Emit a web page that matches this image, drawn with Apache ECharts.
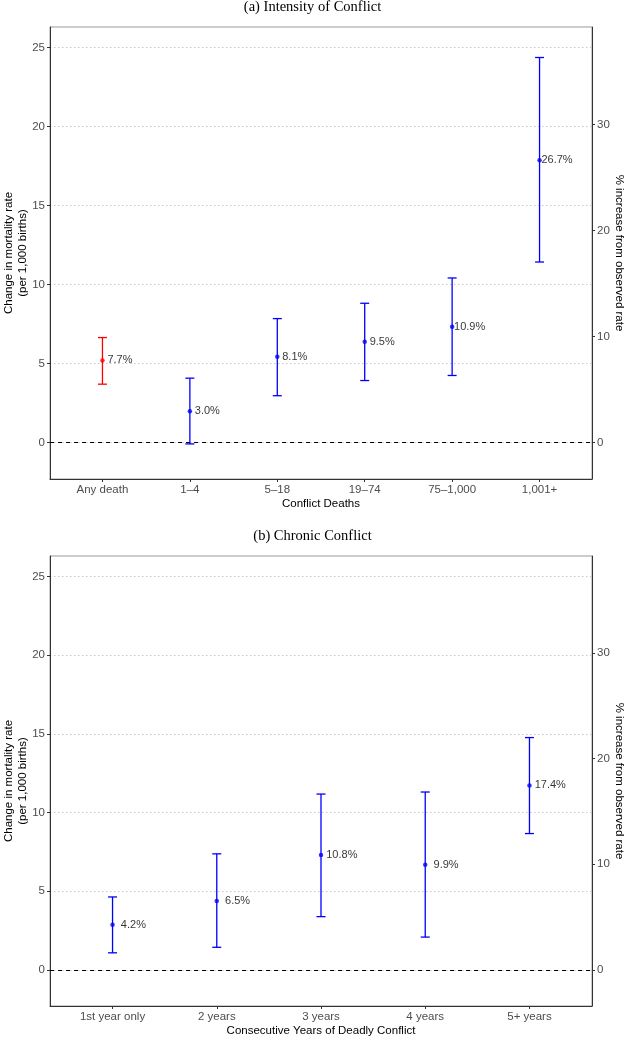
<!DOCTYPE html>
<html>
<head>
<meta charset="utf-8">
<script src="https://cdn.jsdelivr.net/npm/echarts@6/dist/echarts.min.js"></script>
<style>
  html, body { margin: 0; padding: 0; background: #fff; }
  #chart { width: 625px; height: 1038px; }
</style>
</head>
<body>
<div id="chart"></div>
<script>
// (a) intensity of conflict
var deathCats = ['Any death', '1\u20134', '5\u201318', '19\u201374', '75\u20131,000', '1,001+'];
var deathEst = [5.2, 1.98, 5.43, 6.38, 7.34, 17.87];
var deathLow = [3.7, -0.08, 2.97, 3.93, 4.25, 11.43];
var deathHigh = [6.65, 4.08, 7.85, 8.82, 10.42, 24.37];
var deathPct = ['7.7%', '3.0%', '8.1%', '9.5%', '10.9%', '26.7%'];

// (b) chronic conflict
var yearCats = ['1st year only', '2 years', '3 years', '4 years', '5+ years'];
var yearEst = [2.87, 4.38, 7.29, 6.67, 11.72];
var yearLow = [1.08, 1.43, 3.38, 2.08, 8.66];
var yearHigh = [4.63, 7.37, 11.17, 11.3, 14.76];
var yearPct = ['4.2%', '6.5%', '10.8%', '9.9%', '17.4%'];

var leftTicks = [0, 5, 10, 15, 20, 25];
var rightTicks = [0, 10, 20, 30];
var yMin = -2.3, yMax = 26.3;
var pctPerUnit = 1.49; // % axis vs rate axis

var FONT = 'Liberation Sans';
var AXIS_COL = '#333';
var LABEL_COL = '#4d4d4d';

function errorBar(params, api) {
    var x = api.value(0);
    var lo = api.coord([x, api.value(1)]);
    var hi = api.coord([x, api.value(2)]);
    var w = 4.5;
    var style = { stroke: api.visual('color'), lineWidth: 1.3 };
    return {
        type: 'group',
        children: [
            { type: 'line', shape: { x1: lo[0], y1: lo[1], x2: hi[0], y2: hi[1] }, style: style },
            { type: 'line', shape: { x1: lo[0] - w, y1: lo[1], x2: lo[0] + w, y2: lo[1] }, style: style },
            { type: 'line', shape: { x1: hi[0] - w, y1: hi[1], x2: hi[0] + w, y2: hi[1] }, style: style }
        ]
    };
}

function xAxisFor(idx, cats, title) {
    var vals = cats.map(function (c, i) { return i; });
    return {
        type: 'value', gridIndex: idx,
        min: -0.6, max: cats.length - 1 + 0.6,
        splitLine: { show: false },
        axisLine: { show: true, onZero: false, lineStyle: { color: AXIS_COL, width: 1 } },
        axisTick: { show: true, customValues: vals, length: 3, lineStyle: { color: AXIS_COL } },
        axisLabel: {
            customValues: vals, margin: 5, color: LABEL_COL, fontSize: 11.5, fontFamily: FONT,
            formatter: function (v) { return cats[Math.round(v)]; }
        },
        name: title, nameLocation: 'middle', nameGap: 18.5,
        nameTextStyle: { color: '#000', fontSize: 11.5, fontFamily: FONT }
    };
}

function yAxesFor(idx) {
    return [{
        type: 'value', gridIndex: idx, min: yMin, max: yMax,
        axisLine: { show: true, onZero: false, lineStyle: { color: AXIS_COL, width: 1 } },
        axisTick: { show: true, customValues: leftTicks, length: 3, lineStyle: { color: AXIS_COL } },
        axisLabel: { customValues: leftTicks, margin: 5, color: LABEL_COL, fontSize: 11.5, fontFamily: FONT },
        splitLine: { show: true, lineStyle: { color: '#c8c8c8', width: 1, type: [1.5, 2.5] } },
        name: 'Change in mortality rate\n(per 1,000 births)',
        nameLocation: 'middle', nameGap: 20, nameMoveOverlap: false,
        nameTextStyle: { color: '#000', fontSize: 11.5, fontFamily: FONT, lineHeight: 14 }
    }, {
        type: 'value', gridIndex: idx, position: 'right',
        min: yMin * pctPerUnit, max: yMax * pctPerUnit,
        axisLine: { show: true, onZero: false, lineStyle: { color: AXIS_COL, width: 1 } },
        axisTick: { show: true, customValues: rightTicks, length: 3, lineStyle: { color: AXIS_COL } },
        axisLabel: { customValues: rightTicks, margin: 5, color: LABEL_COL, fontSize: 11.5, fontFamily: FONT },
        splitLine: { show: false },
        name: '% increase from observed rate',
        nameLocation: 'middle', nameGap: 21, nameRotate: -90, nameMoveOverlap: false,
        nameTextStyle: { color: '#000', fontSize: 11.5, fontFamily: FONT }
    }];
}

function seriesFor(idx, est, low, high, pct, colorOf) {
    var bars = est.map(function (e, i) {
        return { value: [i, low[i], high[i]], itemStyle: { color: colorOf(i) } };
    });
    var points = est.map(function (e, i) {
        return { value: [i, e], itemStyle: { color: colorOf(i) } };
    });
    // labels nudged 0.2 category units to the right of the point
    var labels = est.map(function (e, i) {
        return { value: [i + 0.2, e], label: { formatter: pct[i] } };
    });
    return [{
        type: 'custom', xAxisIndex: idx, yAxisIndex: idx * 2,
        renderItem: errorBar, data: bars, silent: true, z: 2,
        markLine: {
            silent: true, symbol: 'none', animation: false,
            label: { show: false },
            lineStyle: { color: '#000', width: 1, type: [4, 4] },
            data: [{ yAxis: 0 }]
        }
    }, {
        type: 'scatter', xAxisIndex: idx, yAxisIndex: idx * 2,
        data: points, symbolSize: 4.5, silent: true, z: 3
    }, {
        type: 'scatter', xAxisIndex: idx, yAxisIndex: idx * 2,
        data: labels, symbolSize: 0, silent: true, z: 4,
        label: { show: true, position: 'inside', color: '#000', fontSize: 11, fontFamily: FONT }
    }];
}

var titleStyle = { fontFamily: 'Liberation Serif', fontWeight: 'normal', fontSize: 14.5, color: '#000' };

var chart = echarts.init(document.getElementById('chart'), null, { renderer: 'canvas' });
chart.setOption({
    animation: false,
    backgroundColor: '#fff',
    title: [
        { text: '(a) Intensity of Conflict', left: 'center', top: -5, textStyle: titleStyle },
        { text: '(b) Chronic Conflict', left: 'center', top: 524, textStyle: titleStyle }
    ],
    grid: [
        { left: 50, right: 33, top: 27, height: 452, outerBoundsMode: 'none', containLabel: false,
          show: true, borderColor: '#999', borderWidth: 1 },
        { left: 50, right: 33, top: 556, height: 450, outerBoundsMode: 'none', containLabel: false,
          show: true, borderColor: '#999', borderWidth: 1 }
    ],
    xAxis: [
        xAxisFor(0, deathCats, 'Conflict Deaths'),
        xAxisFor(1, yearCats, 'Consecutive Years of Deadly Conflict')
    ],
    yAxis: yAxesFor(0).concat(yAxesFor(1)),
    series: seriesFor(0, deathEst, deathLow, deathHigh, deathPct, function (i) { return i === 0 ? '#ff0000' : '#0000ff'; })
        .concat(seriesFor(1, yearEst, yearLow, yearHigh, yearPct, function () { return '#0000ff'; }))
});
</script>
</body>
</html>
